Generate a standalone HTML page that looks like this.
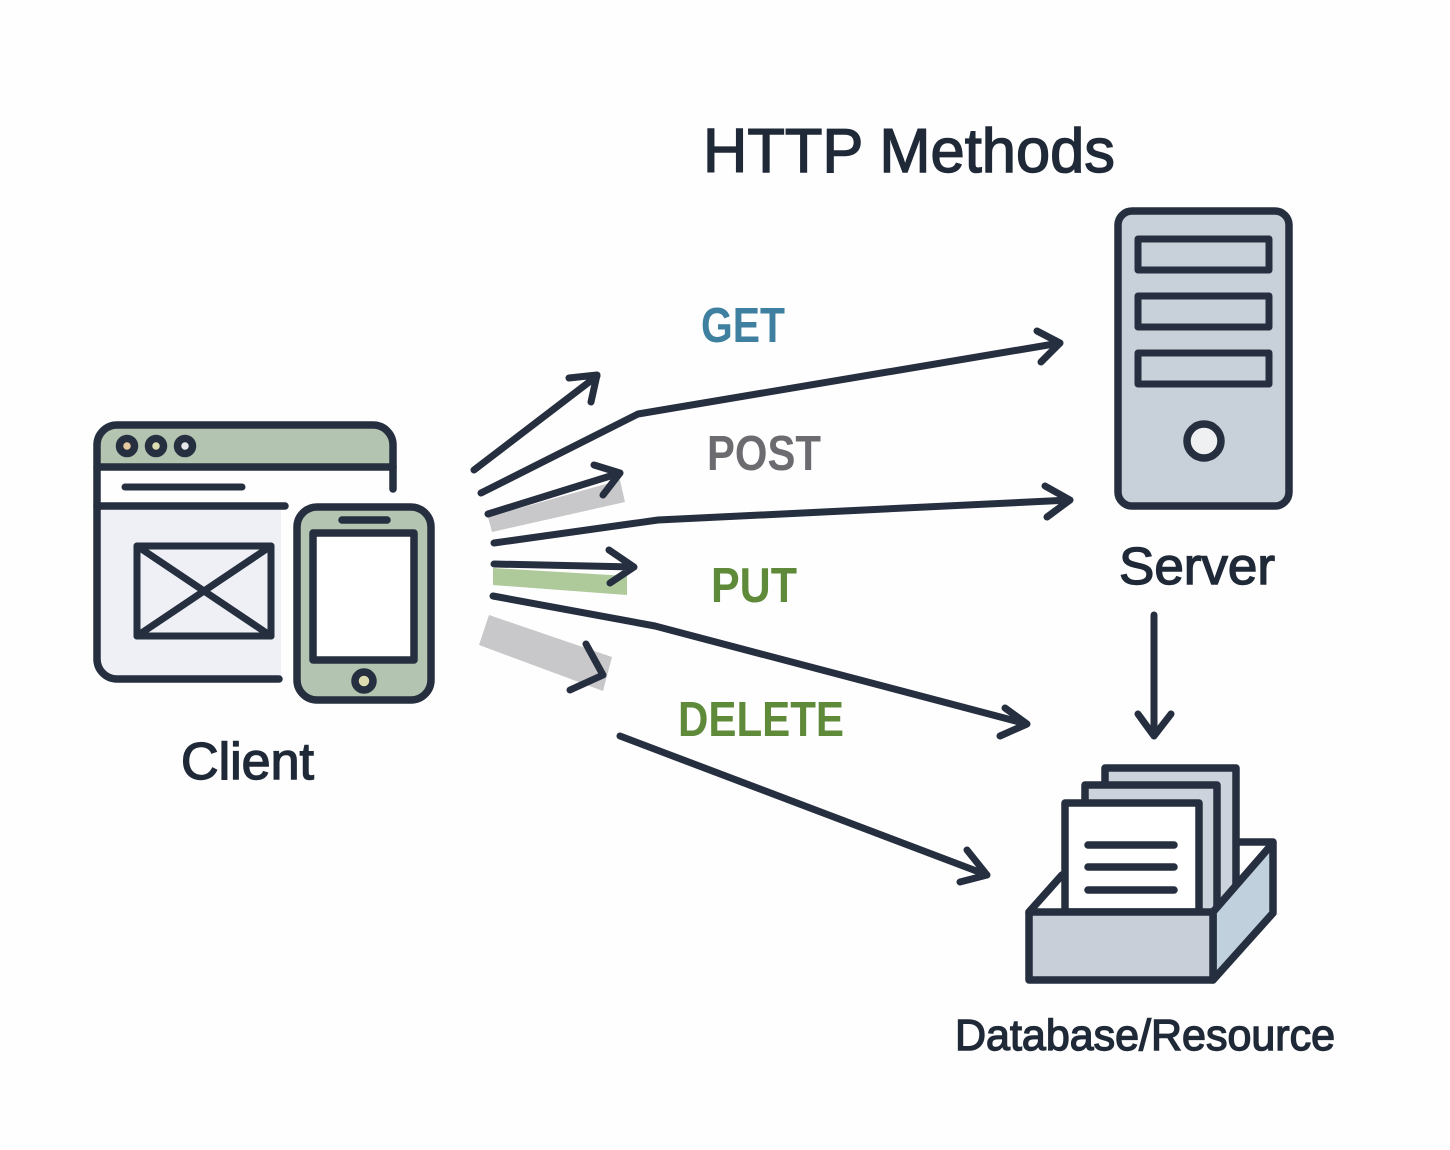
<!DOCTYPE html>
<html><head><meta charset="utf-8"><style>
html,body{margin:0;padding:0;background:#fff}
svg{display:block}
text{font-family:"Liberation Sans",sans-serif}
</style></head><body>
<svg width="1450" height="1150" viewBox="0 0 1450 1150" xmlns="http://www.w3.org/2000/svg">
<rect width="1450" height="1150" fill="#fefefe"/>
<g fill="none" stroke="#262f3f" stroke-linecap="round" stroke-linejoin="round">
<!-- browser -->
<path d="M281 506V679H117a20 20 0 0 1-20-20V506Z" fill="#eef0f5" stroke="none"/>
<path d="M97 467V445a20 20 0 0 1 20-20H373a20 20 0 0 1 20 20V467Z" fill="#b3c4b0" stroke="none"/>
<path d="M279 679H117a20 20 0 0 1-20-20V445a20 20 0 0 1 20-20H373a20 20 0 0 1 20 20V489" stroke-width="7.5"/>
<path d="M97 467H393" stroke-width="7.5"/>
<path d="M97 506H285" stroke-width="7.5"/>
<path d="M125 487H242" stroke-width="7"/>
<circle cx="127" cy="446" r="7.5" fill="#e6c9a0" stroke-width="7.5"/>
<circle cx="156" cy="446" r="7.5" fill="#dcdcb0" stroke-width="7.5"/>
<circle cx="185" cy="446" r="7.5" fill="#e6e8ea" stroke-width="7.5"/>
<rect x="137" y="546" width="134" height="90" stroke-width="7"/>
<path d="M137 546L271 636M271 546L137 636" stroke-width="7"/>
<!-- phone -->
<rect x="297" y="507" width="134" height="193" rx="20" fill="#b3c4b0" stroke-width="7.5"/>
<rect x="313" y="533" width="101" height="127" fill="#fff" stroke-width="7.5"/>
<path d="M342 520H387" stroke-width="7.5"/>
<circle cx="364" cy="681" r="9" fill="#dcdcb0" stroke-width="7.5"/>
<!-- highlight bars -->
<polygon points="488,517 492,532 625,502 620,480" fill="#c8c8ca" stroke="none"/>
<polygon points="493,568 493,585 627,595 627,576" fill="#aec99a" stroke="none"/>
<polygon points="489,615 479,645 603,691 612,657" fill="#c8c8ca" stroke="none"/>
<!-- arrows -->
<g stroke-width="7">
<path d="M474 470L597 376M569 378L597 375L591 402"/>
<path d="M481 493L638 414L1060 343M1037 331L1060 343L1041 362"/>
<path d="M488 514L620 473M594 465L620 473L603 495"/>
<path d="M494 543L658 520L1070 500M1045 486L1070 500L1047 517"/>
<path d="M494 564L634 567M609 550L634 567L610 583"/>
<path d="M493 596L655 626L1027 724M1005 708L1027 724L1000 736"/>
<path d="M586 644L603 675L570 690"/>
<path d="M620 736L987 875M967 850L987 875L960 882"/>
<path d="M1154 615V736M1138 714L1154 736L1171 714"/>
</g>
<!-- server -->
<rect x="1118" y="211" width="171" height="295" rx="14" fill="#c8d0d9" stroke-width="7.5"/>
<rect x="1138" y="239" width="131" height="31" fill="#c8d0d9" stroke-width="7"/>
<rect x="1138" y="296" width="131" height="31" fill="#c8d0d9" stroke-width="7"/>
<rect x="1138" y="353" width="131" height="31" fill="#c8d0d9" stroke-width="7"/>
<circle cx="1204" cy="441" r="17" fill="#eef0f2" stroke-width="7.5"/>
<!-- database -->
<path d="M1029 912L1062 875M1240 842H1273" stroke-width="7.5"/>
<path d="M1105 912V768H1236V900" fill="#cdd3dd" stroke-width="7.5"/>
<path d="M1085 912V785H1217V912" fill="#cdd3dd" stroke-width="7.5"/>
<path d="M1065 912V803H1199V912Z" fill="#fff" stroke-width="7.5"/>
<path d="M1088 845H1174M1088 867H1174M1088 890H1174" stroke-width="7.5"/>
<path d="M1213 912L1273 843V913L1213 980Z" fill="#c0d0dc" stroke-width="7.5"/>
<rect x="1029" y="912" width="184" height="68" fill="#c9cfd8" stroke-width="7.5"/>
</g>
<g fill="#1f2937" stroke="#1f2937" stroke-width="1.4">
<text x="703" y="172" font-size="62" textLength="412" lengthAdjust="spacingAndGlyphs">HTTP Methods</text>
<text x="181" y="779" font-size="52" textLength="133" lengthAdjust="spacingAndGlyphs">Client</text>
<text x="1119" y="584" font-size="52" textLength="156" lengthAdjust="spacingAndGlyphs">Server</text>
<text x="955" y="1050" font-size="44" textLength="380" lengthAdjust="spacingAndGlyphs">Database/Resource</text>
</g>
<g font-size="49" font-weight="bold">
<text x="701" y="342" fill="#3f7f9f" textLength="84" lengthAdjust="spacingAndGlyphs">GET</text>
<text x="707" y="470" fill="#6b6b70" textLength="114" lengthAdjust="spacingAndGlyphs">POST</text>
<text x="711" y="602" fill="#5f8a3a" textLength="86" lengthAdjust="spacingAndGlyphs">PUT</text>
<text x="678" y="736" fill="#5f8a3a" textLength="166" lengthAdjust="spacingAndGlyphs">DELETE</text>
</g>
</svg>
</body></html>
